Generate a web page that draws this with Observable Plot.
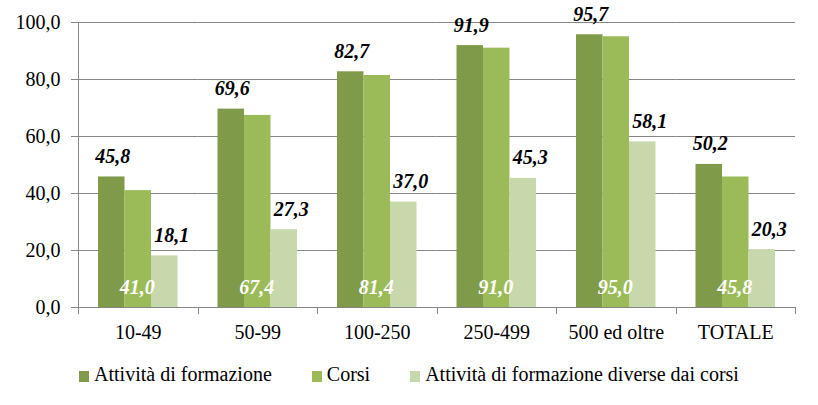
<!DOCTYPE html>
<html>
<head>
<meta charset="utf-8">
<script src="https://cdn.jsdelivr.net/npm/d3@7"></script>
<script src="https://cdn.jsdelivr.net/npm/@observablehq/plot@0.6"></script>
<style>
  html, body { margin: 0; padding: 0; background: white; }
  #wrap { width: 818px; height: 405px; position: relative; font-family: "Liberation Serif", "Times New Roman", Times, "DejaVu Serif", serif; }
  #legend { display: flex; justify-content: center; gap: 40px; font-size: 20px; line-height: 20px; padding-top: 14px; padding-left: 0px; color: black; }
  #legend .sw { display: inline-block; width: 10px; height: 11px; margin-right: 5px; vertical-align: -1px; }
</style>
</head>
<body>
<div id="wrap">
  <div id="chart"></div>
  <div id="legend"></div>
</div>
<script>
const categories = ["10-49", "50-99", "100-250", "250-499", "500 ed oltre", "TOTALE"];
const seriesNames = ["Attività di formazione", "Corsi", "Attività di formazione diverse dai corsi"];
const formazione = [45.8, 69.6, 82.7, 91.9, 95.7, 50.2];
const corsi = [41.0, 67.4, 81.4, 91.0, 95.0, 45.8];
const diverse = [18.1, 27.3, 37.0, 45.3, 58.1, 20.3];
const seriesColors = ["#7F9A48", "#9BBB59", "#C8D8AD"];
const yTicks = [0, 20, 40, 60, 80, 100];

const valuesBySeries = [formazione, corsi, diverse];
const rows = categories.flatMap((c, i) =>
  seriesNames.map((s, j) => ({cat: c, series: s, value: valuesBySeries[j][i]})));
const fmt = d => d.toFixed(1).replace(".", ",");
const FONT = '"Liberation Serif", "Times New Roman", Times, "DejaVu Serif", serif';

const labelStyle = {fontSize: 20, fontWeight: "bold", fontStyle: "italic", lineAnchor: "bottom", textAnchor: "middle", fontFamily: FONT};

const chart = Plot.plot({
  width: 818,
  height: 350,
  marginTop: 22,
  marginBottom: 43,
  marginLeft: 78,
  marginRight: 23,
  style: {fontFamily: FONT, fontSize: "20px", background: "white", color: "black", overflow: "visible"},
  fx: {domain: categories, padding: 0, label: null, round: false},
  x: {domain: seriesNames, paddingInner: 0, paddingOuter: 0.755, axis: null, round: false},
  y: {domain: [0, 100]},
  color: {domain: seriesNames, range: seriesColors},
  marks: [
    Plot.ruleY(yTicks, {stroke: "#868686", strokeWidth: 1}),
    Plot.barY(rows, {fx: "cat", x: "series", y: "value", fill: "series"}),
    Plot.text(rows.filter(d => d.series === seriesNames[0]), {
      fx: "cat", x: "series", y: "value", text: d => fmt(d.value), dy: -14, dx: 1, fill: "black", ...labelStyle
    }),
    Plot.text(rows.filter(d => d.series === seriesNames[2]), {
      fx: "cat", x: "series", y: "value", text: d => fmt(d.value), dy: -14, dx: 7, fill: "black", ...labelStyle
    }),
    Plot.text(rows.filter(d => d.series === seriesNames[1]), {
      fx: "cat", x: "series", y: d => 0, text: d => fmt(d.value), dy: -13.5, dx: -1, fill: "white", ...labelStyle
    }),
    Plot.axisY({ticks: yTicks, tickSize: 7, tickPadding: 11, stroke: "#868686", tickFormat: fmt, fontSize: 20, label: null, fontFamily: FONT}),
    Plot.axisFx({anchor: "bottom", tickSize: 0, tickPadding: 17, fontSize: 20, label: null, fontFamily: FONT})
  ]
});
document.getElementById("chart").appendChild(chart);

// category boundary ticks and left axis line, positioned with Plot's own scales
const fxs = chart.scale("fx");
const ys = chart.scale("y");
const y0 = ys.apply(0), y100 = ys.apply(100);
const edges = categories.map(c => fxs.apply(c));
edges.push(fxs.apply(categories[categories.length - 1]) + fxs.bandwidth);
const g = d3.select(chart).append("g").attr("stroke", "#868686").attr("stroke-width", 1);
g.selectAll("line.edge").data(edges).join("line")
  .attr("class", "edge")
  .attr("x1", d => Math.round(d) + 0.5).attr("x2", d => Math.round(d) + 0.5)
  .attr("y1", y0).attr("y2", y0 + 7);
g.append("line")
  .attr("x1", Math.round(edges[0]) + 0.5).attr("x2", Math.round(edges[0]) + 0.5)
  .attr("y1", y100).attr("y2", y0);

// legend
const legend = d3.select("#legend");
seriesNames.forEach((s, i) => {
  const item = legend.append("span");
  item.append("span").attr("class", "sw").style("background", seriesColors[i]);
  item.append("span").text(s);
});
</script>
</body>
</html>
